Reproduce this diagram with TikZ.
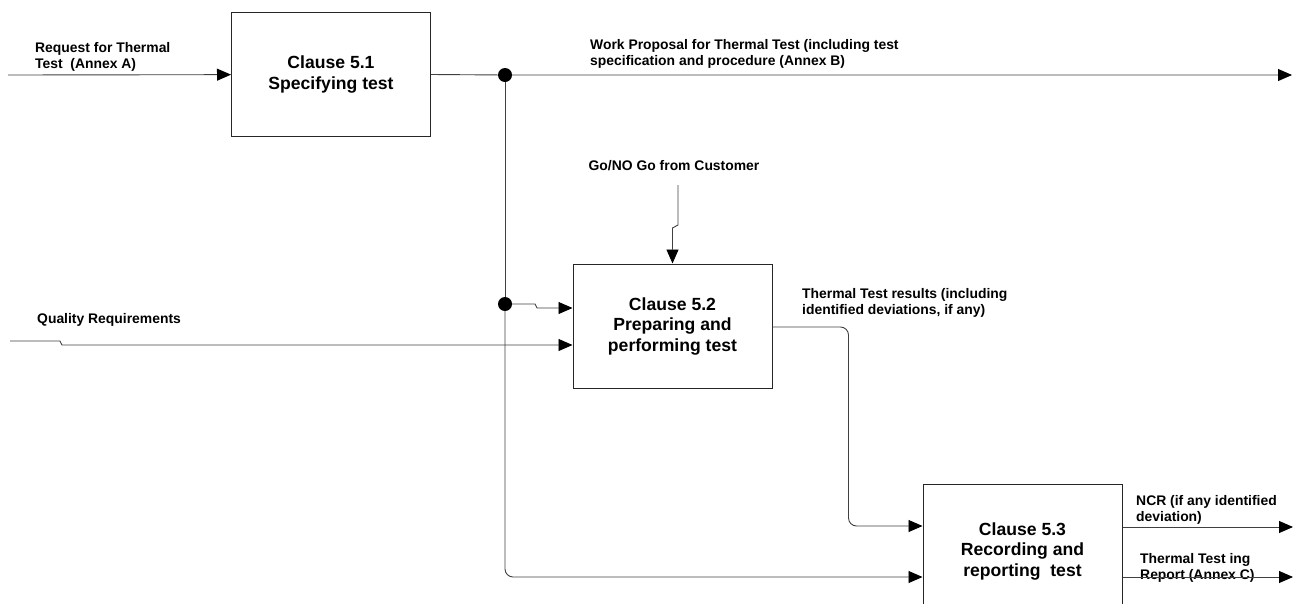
\documentclass[tikz,border=0pt]{standalone}
\usepackage{fontspec}
\setmainfont{Liberation Sans}
\usetikzlibrary{arrows.meta}
\usetikzlibrary{positioning}

\newcommand{\flowlabelfont}{\fontsize{13.9}{16}\selectfont\bfseries}
\newcommand{\clausefont}{\fontsize{17.6}{20.5}\selectfont\bfseries}

\tikzset{
    clausebox/.style={rectangle, draw=black!85, line width=1pt, minimum width=199pt, minimum height=124pt, align=center, font=\clausefont, inner sep=0pt},
    flowlabel/.style={anchor=west, align=left, font=\flowlabelfont, inner sep=0pt},
    wire/.style={draw=black!75, line width=0.9pt},
    flowarrow/.style={wire, -{Triangle[length=14pt,width=12pt,color=black]}},
    junction/.style={circle, fill=black, minimum size=14pt, inner sep=0pt}
}

\begin{document}
\begin{tikzpicture}[x=1pt, y=-1pt]
    \useasboundingbox (0,0) rectangle (1300,603);

    \node [clausebox] (specify) at (331,74.5) {Clause 5.1\\Specifying test};
    \node [clausebox] (perform) at (672.5,326) {Clause 5.2\\Preparing and\\performing test};
    \node [clausebox, minimum height=134pt] (record) at (1022.5,551) {Clause 5.3\\Recording and\\reporting\ \ test};

    \node [junction] (split1) at (505,75) {};
    \node [junction] (split2) at (505,304) {};

    \coordinate (reqstart) at (8,75);
    \coordinate (wpend) at (1292,75);
    \coordinate (qualstart) at (10,341);
    \coordinate (gostart) at (678,185);
    \coordinate (midin) at ([yshift=18pt]perform.west);
    \coordinate (qualin) at ([yshift=-19pt]perform.west);
    \coordinate (resout) at ([yshift=-1pt]perform.east);
    \coordinate (resin) at ([yshift=25pt]record.west);
    \coordinate (lowin) at ([yshift=-26pt]record.west);
    \coordinate (ncrout) at ([yshift=24pt]record.east);
    \coordinate (ncrend) at (1293,527);
    \coordinate (repout) at ([yshift=-26pt]record.east);
    \coordinate (repend) at (1293,577);

    % labels
    \node [flowlabel] (req_label) at (35,57) {Request for Thermal\\Test\ \ (Annex A)};
    \node [flowlabel] (wp_label) at (590,54) {Work Proposal for Thermal Test (including test\\specification and procedure (Annex B)};
    \node [flowlabel, anchor=center] (go_label) at (674,166) {Go/NO Go from Customer};
    \node [flowlabel] (qual_label) at (37,320) {Quality Requirements};
    \node [flowlabel] (res_label) at (802,303) {Thermal Test results (including\\identified deviations, if any)};
    \node [flowlabel] (ncr_label) at (1136,510) {NCR (if any identified\\deviation)};
    \node [flowlabel] (rep_label) at (1140,568) {Thermal Test ing\\Report (Annex C)};

    % connectors
    \draw [flowarrow] (reqstart) -- (specify);
    \draw [flowarrow] (specify.east) -- (split1) -- (wpend);
    \draw [wire] (split1) -- (split2);
    \draw [flowarrow, rounded corners=8pt] (split2) |- (lowin);
    \draw [flowarrow] (split2) -- ++(30,0) -- ++(2,4) -- (midin);
    \draw [flowarrow] (qualstart) -- ++(50,0) -- ++(2,4) -- (qualin);
    \draw [flowarrow] (gostart) -- ++(0,40) -- ++(-5.5,3) -- (perform.north);
    \draw [flowarrow, rounded corners=8pt] (resout) -- ++(76,0) |- (resin);
    \draw [flowarrow] (ncrout) -- (ncrend);
    \draw [flowarrow] (repout) -- (repend);
\end{tikzpicture}
\end{document}
